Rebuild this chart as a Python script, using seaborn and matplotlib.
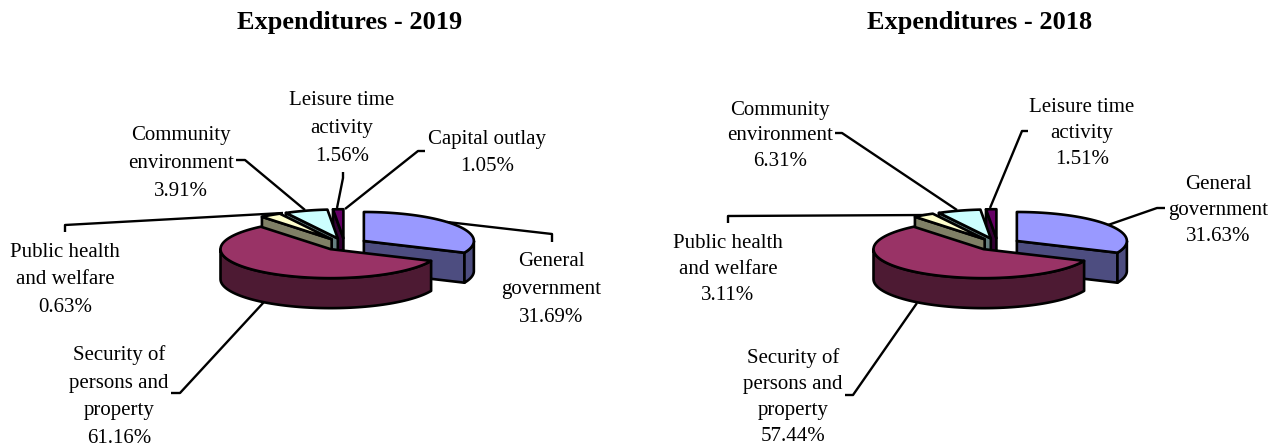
import numpy as np
import matplotlib
matplotlib.use("Agg")
import matplotlib.pyplot as plt
from matplotlib.patches import Polygon
import seaborn as sns

# ---- data -----------------------------------------------------------------
titles = ["Expenditures - 2019", "Expenditures - 2018"]

labels_2019 = ["General\ngovernment", "Security of\npersons and\nproperty",
               "Public health\nand welfare", "Community\nenvironment",
               "Leisure time\nactivity", "Capital outlay"]
values_2019 = [31.69, 61.16, 0.63, 3.91, 1.56, 1.05]

labels_2018 = ["General\ngovernment", "Security of\npersons and\nproperty",
               "Public health\nand welfare", "Community\nenvironment",
               "Leisure time\nactivity"]
values_2018 = [31.63, 57.44, 3.11, 6.31, 1.51]

# Shares of the drawn slices: both pies have this same shape
drawn_shares = [31.63, 57.44, 3.11, 6.31, 1.51]
slice_colors = ["#9999FF", "#993366", "#FFFFCC", "#CCFFFF", "#660066"]

# ---- layout (figure pixels) -------------------------------------------------
W, H = 1281, 447
RX, RY, DEPTH, EXPLODE = 110, 29, 30, 0.21
CENTERS = [(344.5, 244.3), (997.5, 244.3)]
TITLE_X = [350, 980]
TITLE_Y = 22
TEXT_POS = [
    [(551, 289.5), (119, 396.5), (65, 280), (181, 163.5), (342, 128.5), (487, 153)],
    [(1218, 210.5), (793, 397.5), (728, 269), (780, 136), (1082, 133.5)],
]
LINE_SP = [1.62, 1.5]
LEADERS = [
    [[(552, 242), (552, 234), (447, 222)],
     [(171, 393), (180, 393), (264, 302)],
     [(65, 232), (65, 225), (283, 213)],
     [(236, 160), (245, 160), (305, 210)],
     [(343, 172), (343, 178), (337, 208)],
     [(425, 151), (418, 151), (345, 209)]],
    [[(1165, 208), (1157, 208), (1108, 225)],
     [(845, 395), (853, 395), (917, 303)],
     [(728, 223), (728, 216), (927, 215)],
     [(835, 133), (842, 133), (957, 210)],
     [(1028, 131), (1022, 131), (990, 208)]],
]

sns.set_style("white")
plt.rcParams["font.family"] = ["Liberation Serif", "DejaVu Serif"]


def rim(apex, deg):
    t = np.radians(np.atleast_1d(deg))
    return np.column_stack([apex[0] + RX * np.sin(t), apex[1] - RY * np.cos(t)])


def draw_slice(ax, center, a, b, color):
    mid = np.radians((a + b) / 2)
    apex = np.array([center[0] + EXPLODE * RX * np.sin(mid),
                     center[1] - EXPLODE * RY * np.cos(mid)])
    dark = tuple(0.5 * c for c in matplotlib.colors.to_rgb(color))
    down = np.array([0, DEPTH])
    style = dict(edgecolor="black", linewidth=1.9, joinstyle="round")

    def face(deg):
        p = rim(apex, deg)[0]
        ax.add_patch(Polygon([apex, p, p + down, apex + down], facecolor=dark, **style))

    # Cut faces that turn towards the viewer
    if np.sin(np.radians(a)) < -1e-6:
        face(a)
    if np.sin(np.radians(b)) > 1e-6:
        face(b)
    # Outer wall: front half of the rim only
    lo, hi = max(a, 90), min(b, 270)
    if hi > lo:
        arc = rim(apex, np.linspace(lo, hi, 80))
        ax.add_patch(Polygon(np.vstack([arc, (arc + down)[::-1]]), facecolor=dark, **style))
    # Top surface
    arc = rim(apex, np.linspace(a, b, 120))
    ax.add_patch(Polygon(np.vstack([apex, arc]), facecolor=color, **style))


def draw_pie(ax, center, shares, colors):
    edges = np.concatenate([[0], np.cumsum(shares)]) / np.sum(shares) * 360
    spans = list(zip(edges[:-1], edges[1:], colors))
    # Back to front: first slice, then the small ones from the right, then the big one
    for i in [0, 4, 3, 2, 1]:
        draw_slice(ax, center, *spans[i])


fig = plt.figure(figsize=(W / 100, H / 100), dpi=100, facecolor="white")
axes = [fig.add_axes([0, 0, 0.5, 1]), fig.add_axes([0.5, 0, 0.5, 1])]
series = [(labels_2019, values_2019), (labels_2018, values_2018)]

for i, ax in enumerate(axes):
    ax.set_xlim(i * W / 2, (i + 1) * W / 2)
    ax.set_ylim(H, 0)
    ax.axis("off")
    for seg in LEADERS[i]:
        xs, ys = zip(*seg)
        ax.plot(xs, ys, color="black", lw=1.7, solid_capstyle="butt", zorder=1, clip_on=False)
    draw_pie(ax, CENTERS[i], drawn_shares, slice_colors)
    ax.text(TITLE_X[i], TITLE_Y, titles[i], ha="center", va="center",
            fontsize=19, fontweight="bold", color="black")
    labs, vals = series[i]
    for lab, val, (x, y) in zip(labs, vals, TEXT_POS[i]):
        ax.text(x, y, f"{lab}\n{val:.2f}%", ha="center", va="center", ma="center",
                fontsize=15, color="black", linespacing=LINE_SP[i], zorder=5)

fig.savefig("out.png", dpi=100, facecolor="white")
